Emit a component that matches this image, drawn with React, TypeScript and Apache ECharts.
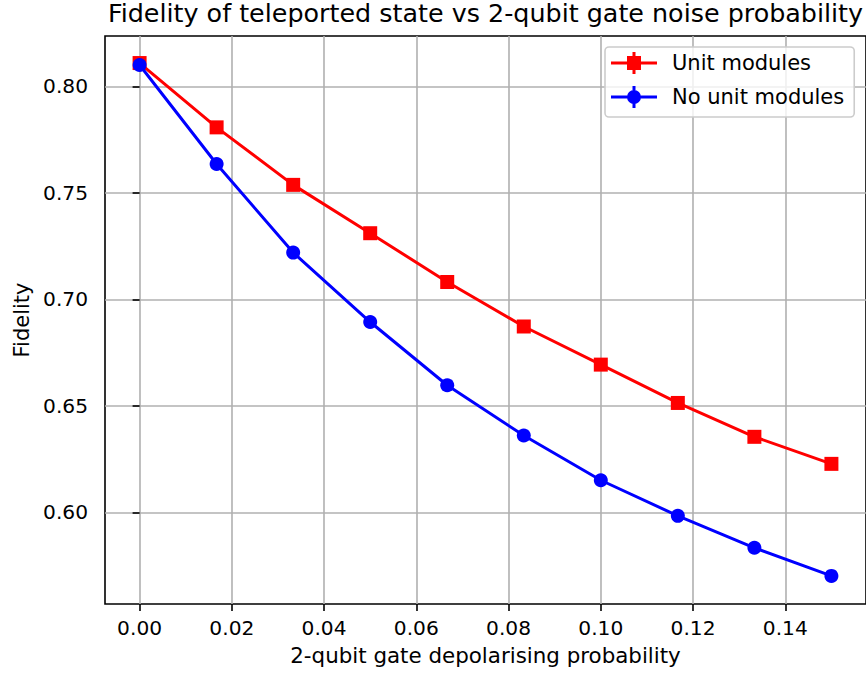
import React, { useEffect, useRef } from "react";
import * as echarts from "echarts";

const titleText = "Fidelity of teleported state vs 2-qubit gate noise probability";
const xAxisName = "2-qubit gate depolarising probability";
const yAxisName = "Fidelity";
const seriesNames = ["Unit modules", "No unit modules"];
const seriesColors = ["#ff0000", "#0000ff"];

const probabilities = [0, 0.0167, 0.0333, 0.05, 0.0667, 0.0833, 0.1, 0.1167, 0.1333, 0.15];
const unitModules = [0.811, 0.7808, 0.7538, 0.7311, 0.7082, 0.6873, 0.6694, 0.6514, 0.6355, 0.6228];
const noUnitModules = [0.8101, 0.7636, 0.722, 0.6894, 0.6597, 0.6361, 0.6151, 0.5984, 0.5834, 0.5702];

const xTicks = [0, 0.02, 0.04, 0.06, 0.08, 0.1, 0.12, 0.14];
const yTicks = [0.6, 0.65, 0.7, 0.75, 0.8];

const FONT = "DejaVu Sans";

// legend glyphs: line + marker + short error bar (56 x 22 box, line spans 0..46)
const squareIcon =
  "path://M0 9.5L46 9.5L46 12.5L0 12.5Z M16 4L30 4L30 18L16 18Z M21.5 0L24.5 0L24.5 22L21.5 22Z M56 11Z";
const circleIcon =
  "path://M0 9.5L46 9.5L46 12.5L0 12.5Z M16 11A7 7 0 1 1 30 11A7 7 0 1 1 16 11Z M21.5 0L24.5 0L24.5 22L21.5 22Z M56 11Z";

export default function App() {
  const ref = useRef<HTMLDivElement>(null);
  useEffect(() => {
    if (!ref.current) return;
    const chart = echarts.init(ref.current, undefined, { renderer: "svg" });
    const data1 = probabilities.map((p, i) => [p, unitModules[i]]);
    const data2 = probabilities.map((p, i) => [p, noUnitModules[i]]);
    chart.setOption({
      animation: false,
      backgroundColor: "#ffffff",
      textStyle: { fontFamily: FONT },
      title: {
        text: titleText,
        left: 485.5,
        top: 0,
        padding: 0,
        textAlign: "center",
        textStyle: { fontFamily: FONT, fontSize: 25.4, fontWeight: "normal", color: "#000", lineHeight: 25 },
      },
      grid: {
        left: 105,
        right: -1,
        top: 36,
        bottom: 72,
        show: true,
        borderColor: "#000",
        borderWidth: 1.6,
        backgroundColor: "transparent",
        containLabel: false,
      },
      legend: {
        orient: "vertical",
        left: 605,
        top: 47,
        padding: [5, 10, 9, 6],
        itemGap: 12,
        itemWidth: 56,
        itemHeight: 22,
        backgroundColor: "rgba(255,255,255,0.8)",
        borderColor: "#cccccc",
        borderWidth: 1.6,
        borderRadius: 4,
        textStyle: { fontFamily: FONT, fontSize: 21, color: "#000" },
        itemStyle: { borderWidth: 0 },
        data: [
          { name: seriesNames[0], icon: squareIcon },
          { name: seriesNames[1], icon: circleIcon },
        ],
      },
      xAxis: {
        type: "value",
        min: -0.0075,
        max: 0.1575,
        name: xAxisName,
        nameLocation: "middle",
        nameGap: 41,
        nameTextStyle: { fontFamily: FONT, fontSize: 21.4, color: "#000" },
        axisLine: { show: false },
        axisTick: {
          show: true,
          inside: false,
          length: 7,
          customValues: xTicks,
          lineStyle: { color: "#000", width: 1.6 },
        },
        axisLabel: {
          customValues: xTicks,
          margin: 14,
          fontFamily: FONT,
          fontSize: 20.2,
          color: "#000",
          formatter: (v: number) => v.toFixed(2),
        },
        splitLine: { show: true, lineStyle: { color: "#b0b0b0", width: 1.6 } },
      },
      yAxis: {
        type: "value",
        min: 0.557,
        max: 0.8237,
        name: yAxisName,
        nameLocation: "middle",
        nameGap: 71,
        nameRotate: 90,
        nameTextStyle: { fontFamily: FONT, fontSize: 21, color: "#000" },
        axisLine: { show: false },
        axisTick: {
          show: true,
          inside: false,
          length: 7,
          customValues: yTicks,
          lineStyle: { color: "#000", width: 1.6 },
        },
        axisLabel: {
          customValues: yTicks,
          margin: 17,
          fontFamily: FONT,
          fontSize: 20.2,
          color: "#000",
          formatter: (v: number) => v.toFixed(2),
        },
        splitLine: { show: true, lineStyle: { color: "#b0b0b0", width: 1.6 } },
      },
      series: [
        {
          name: seriesNames[0],
          type: "line",
          data: data1,
          symbol: "rect",
          symbolSize: 14,
          showAllSymbol: true,
          color: seriesColors[0],
          lineStyle: { color: seriesColors[0], width: 3 },
          itemStyle: { color: seriesColors[0], borderWidth: 0 },
          z: 3,
        },
        {
          name: seriesNames[1],
          type: "line",
          data: data2,
          symbol: "circle",
          symbolSize: 14,
          showAllSymbol: true,
          color: seriesColors[1],
          lineStyle: { color: seriesColors[1], width: 3 },
          itemStyle: { color: seriesColors[1], borderWidth: 0 },
          z: 4,
        },
      ],
    });
    return () => chart.dispose();
  }, []);
  return (
    <div
      ref={ref}
      style={{ position: "fixed", left: 0, top: 0, width: 866, height: 676, background: "#fff" }}
    />
  );
}
